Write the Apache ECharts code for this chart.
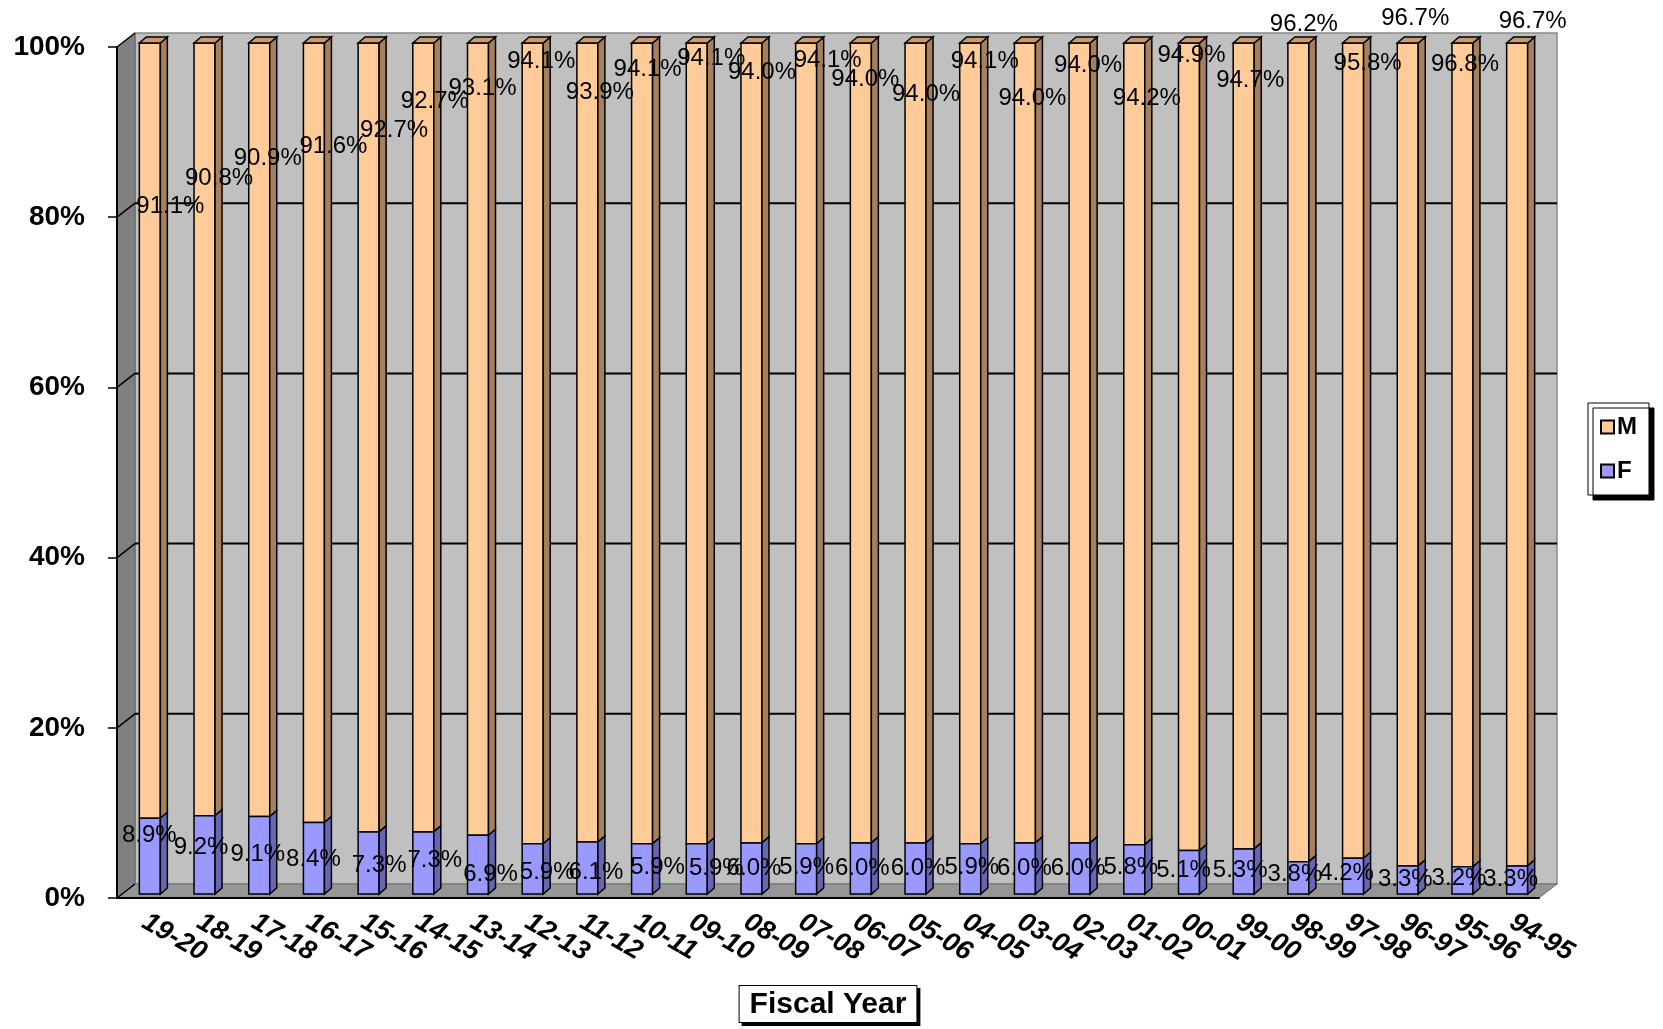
<!DOCTYPE html>
<html>
<head>
<meta charset="utf-8">
<title>M / F by Fiscal Year</title>
<script src="https://cdn.jsdelivr.net/npm/echarts@6/dist/echarts.min.js"></script>
<style>
  html, body { margin: 0; padding: 0; background: #fff; }
  #app { width: 1663px; height: 1029px; }
</style>
</head>
<body>
<div id="app"></div>
<script>
// fiscal years, newest first (as in the source chart)
const years = ['19-20', '18-19', '17-18', '16-17', '15-16', '14-15', '13-14', '12-13', '11-12', '10-11',
  '09-10', '08-09', '07-08', '06-07', '05-06', '04-05', '03-04', '02-03', '01-02', '00-01',
  '99-00', '98-99', '97-98', '96-97', '95-96', '94-95'];
const female = [8.9, 9.2, 9.1, 8.4, 7.3, 7.3, 6.9, 5.9, 6.1, 5.9, 5.9, 6.0, 5.9, 6.0, 6.0, 5.9, 6.0, 6.0, 5.8, 5.1,
  5.3, 3.8, 4.2, 3.3, 3.2, 3.3];
const male = [91.1, 90.8, 90.9, 91.6, 92.7, 92.7, 93.1, 94.1, 93.9, 94.1, 94.1, 94.0, 94.1, 94.0, 94.0, 94.1, 94.0,
  94.0, 94.2, 94.9, 94.7, 96.2, 95.8, 96.7, 96.8, 96.7];
const yTicks = [0, 20, 40, 60, 80, 100];

// where Excel dropped each data label (pixel nudge from the bar)
const mNudgeX = [26, 20, 14, 25, 31, 17, 10, 14, 18, 11, 20, 16, 27, 10, 16, 20, 13, 14, 18, 8, 12, 11, 20, 13, 8, 21];
const mNudgeY = [159, 131, 111, 99, 83, 54, 41, 14, 45, 22, 11, 25, 13, 32, 47, 14, 51, 18, 51, 8, 33, -23, 16, -29, 17, -26];
const fNudgeX = [5, 2, 4, 5, 16, 17, 18, 20, 14, 21, 25, 8, 6, 7, 8, 7, 5, 4, 2, 0, 2, 2, -1, 3, 2, -1];
const fNudgeY = [13, 28, 34, 33, 29, 24, 35, 25, 26, 20, 21, 21, 20, 21, 21, 20, 21, 21, 19, 16, 17, 9, 11, 9, 8, 9];

// 3d depth of the plot box
const DX = 18, DY = -14;
const FONT = 'Liberation Sans, Arial, sans-serif';

function wallsItem(params, api) {
  const half = api.size([1, 0])[0] / 2;
  const p0 = api.coord([0, 0]);
  const pTop = api.coord([0, 100]);
  const pEnd = api.coord([years.length - 1, 0]);
  const x0 = p0[0] - half, x1 = pEnd[0] + half;
  const yB = p0[1], yT = pTop[1];
  const kids = [
    { type: 'polygon', shape: { points: [[x0 + DX, yT + DY], [x1 + DX, yT + DY], [x1 + DX, yB + DY], [x0 + DX, yB + DY]] },
      style: { fill: '#C0C0C0', stroke: '#8a8a8a', lineWidth: 1.5 } },
    { type: 'polygon', shape: { points: [[x0, yT], [x0 + DX, yT + DY], [x0 + DX, yB + DY], [x0, yB]] },
      style: { fill: '#808080', stroke: '#606060', lineWidth: 1 } },
    { type: 'polygon', shape: { points: [[x0, yB], [x1, yB], [x1 + DX, yB + DY], [x0 + DX, yB + DY]] },
      style: { fill: '#969696', stroke: '#707070', lineWidth: 1 } }
  ];
  yTicks.forEach(function (v) {
    const y = api.coord([0, v])[1];
    if (v > 0 && v < 100) {
      kids.push({ type: 'line', shape: { x1: x0 + DX, y1: y + DY, x2: x1 + DX, y2: y + DY },
        style: { stroke: '#000', lineWidth: 2 } });
    }
    kids.push({ type: 'line', shape: { x1: x0, y1: y, x2: x0 + DX, y2: y + DY },
      style: { stroke: '#000', lineWidth: 1.5 } });
  });
  return { type: 'group', children: kids };
}

function barItem(front, side, topFace, nx, ny) {
  return function (params, api) {
    const i = api.value(0);
    const lo = api.coord([i, api.value(1)]);
    const hi = api.coord([i, api.value(2)]);
    const cx = lo[0];
    const yB = lo[1] - 4, yT = hi[1] - 4;
    const a = cx - 5, b = cx + 16, d = 7, e = 6;
    const kids = [
      { type: 'rect', shape: { x: a, y: yT, width: b - a, height: yB - yT },
        style: { fill: front, stroke: '#000', lineWidth: 1.5 } },
      { type: 'polygon', shape: { points: [[b, yT], [b + d, yT - e], [b + d, yB - e], [b, yB]] },
        style: { fill: side, stroke: '#000', lineWidth: 1.5 } }
    ];
    if (topFace) {
      kids.push({ type: 'polygon', shape: { points: [[a, yT], [a + d, yT - e], [b + d, yT - e], [b, yT]] },
        style: { fill: topFace, stroke: '#000', lineWidth: 1.5 } });
    }
    kids.push({ type: 'text', z2: 50,
      style: { text: api.value(3).toFixed(1) + '%', x: cx + nx[i], y: hi[1] + ny[i],
        align: 'center', verticalAlign: 'middle', font: '24px ' + FONT, fill: '#000' } });
    return { type: 'group', children: kids };
  };
}

const chart = echarts.init(document.getElementById('app'));
chart.setOption({
  animation: false,
  grid: { left: 117, right: 124, top: 47, bottom: 131 },
  legend: {
    data: ['M', 'F'], orient: 'vertical', left: 1588, top: 403,
    padding: [12, 12], itemGap: 20, itemWidth: 13, itemHeight: 13, icon: 'rect',
    backgroundColor: '#fff', borderColor: '#000', borderWidth: 1,
    shadowColor: '#000', shadowBlur: 0, shadowOffsetX: 5, shadowOffsetY: 5,
    textStyle: { fontFamily: FONT, fontSize: 24, fontWeight: 'bold', color: '#000', padding: [0, 0, 0, -2] }
  },
  xAxis: {
    type: 'category', data: years,
    name: 'Fiscal Year', nameLocation: 'middle', nameGap: 88,
    nameTextStyle: { fontFamily: FONT, fontSize: 30, fontWeight: 'bold', color: '#000',
      backgroundColor: '#fff', borderColor: '#000', borderWidth: 1, padding: [4, 10, 2, 10],
      shadowColor: '#000', shadowBlur: 0, shadowOffsetX: 3, shadowOffsetY: 3 },
    axisLine: { lineStyle: { color: '#000', width: 2 } },
    axisTick: { length: 10, lineStyle: { color: '#000', width: 1.5 } },
    axisLabel: { interval: 0, rotate: -30, margin: 22, fontFamily: FONT, fontSize: 27,
      fontWeight: 'bold', fontStyle: 'italic', color: '#000' }
  },
  yAxis: {
    type: 'value', min: 0, max: 100, interval: 20,
    axisLine: { show: true, lineStyle: { color: '#000', width: 2 } },
    axisTick: { show: true, length: 9, lineStyle: { color: '#000', width: 1.5 } },
    splitLine: { show: false },
    axisLabel: { formatter: '{value}%', margin: 32, fontFamily: FONT, fontSize: 28,
      fontWeight: 'bold', color: '#000' }
  },
  series: [
    { type: 'custom', name: 'walls', z: 0, silent: true, renderItem: wallsItem, data: [[0]] },
    { type: 'custom', name: 'M', z: 2,
      itemStyle: { color: '#FFCC99', borderColor: '#000', borderWidth: 1 },
      renderItem: barItem('#FFCC99', '#A6805D', '#C89A6E', mNudgeX, mNudgeY),
      encode: { x: 0, y: 2 },
      data: years.map(function (y, i) { return [i, female[i], female[i] + male[i], male[i]]; }) },
    { type: 'custom', name: 'F', z: 3,
      itemStyle: { color: '#9999FF', borderColor: '#000', borderWidth: 1 },
      renderItem: barItem('#9999FF', '#6666B3', null, fNudgeX, fNudgeY),
      encode: { x: 0, y: 2 },
      data: years.map(function (y, i) { return [i, 0, female[i], female[i]]; }) }
  ]
});
</script>
</body>
</html>
